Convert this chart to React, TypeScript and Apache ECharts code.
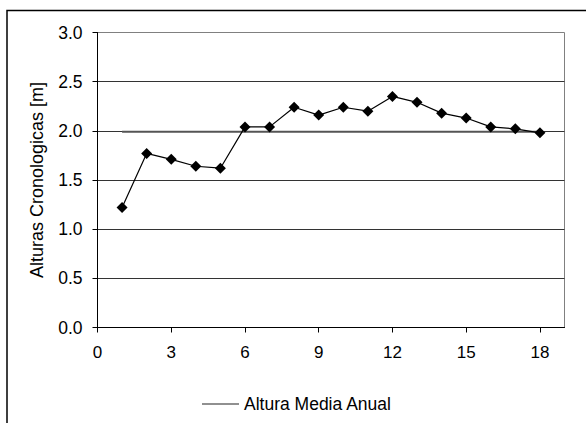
import React, { useEffect, useRef } from "react";
import * as echarts from "echarts";

// Chronological heights per year index
const years = [1, 2, 3, 4, 5, 6, 7, 8, 9, 10, 11, 12, 13, 14, 15, 16, 17, 18];
const heights = [
  1.22, 1.77, 1.71, 1.64, 1.62, 2.04, 2.04, 2.24, 2.16, 2.24, 2.2, 2.35, 2.29,
  2.18, 2.13, 2.04, 2.02, 1.98,
];
// Annual mean height, drawn as a flat line across the series span
const meanHeight = 1.99;
const meanSpan = [1, 18];

const xTicks = [0, 3, 6, 9, 12, 15, 18];
const yAxisTitle = "Alturas Cronologicas [m]";
const meanLabel = "Altura Media Anual";

const FONT = '"Liberation Sans", Arial, sans-serif';

export default function App() {
  const ref = useRef<HTMLDivElement>(null);

  useEffect(() => {
    if (!ref.current) return;
    const chart = echarts.init(ref.current, undefined, { renderer: "svg" });

    chart.setOption({
      animation: false,
      backgroundColor: "#fff",
      textStyle: { fontFamily: FONT, color: "#000" },
      grid: {
        left: 97.5,
        top: 32.5,
        width: 467,
        height: 295,
        show: true,
        borderColor: "#808080",
        borderWidth: 1,
      },
      xAxis: {
        type: "value",
        min: 0,
        max: 19,
        interval: 3,
        axisLine: { show: true, onZero: false, lineStyle: { color: "#000", width: 1 } },
        axisTick: {
          show: true,
          inside: false,
          length: 5,
          customValues: xTicks,
          lineStyle: { color: "#000" },
        },
        axisLabel: {
          customValues: xTicks,
          margin: 16,
          fontSize: 17,
          fontFamily: FONT,
          color: "#000",
        },
        splitLine: { show: false },
      },
      yAxis: {
        type: "value",
        min: 0,
        max: 3,
        interval: 0.5,
        name: yAxisTitle,
        nameLocation: "middle",
        nameRotate: 90,
        nameGap: 52,
        nameTextStyle: { fontSize: 18, fontFamily: FONT, color: "#000" },
        axisLine: { show: true, lineStyle: { color: "#000", width: 1 } },
        axisTick: { show: true, inside: false, length: 5, lineStyle: { color: "#000" } },
        axisLabel: {
          margin: 15,
          fontSize: 17.5,
          fontFamily: FONT,
          color: "#000",
          formatter: (v: number) => v.toFixed(1),
        },
        splitLine: {
          show: true,
          showMaxLine: false,
          lineStyle: { color: "#333", width: 1 },
        },
      },
      legend: {
        show: true,
        data: [{ name: meanLabel, icon: "rect" }],
        left: 197,
        top: 390,
        itemWidth: 37,
        itemHeight: 1.2,
        itemGap: 10,
        itemStyle: { color: "#222" },
        textStyle: { fontSize: 17.5, fontFamily: FONT, color: "#000", padding: [0, 0, 0, 0] },
      },
      graphic: [
        {
          type: "rect",
          shape: { x: 7, y: 10.5, width: 620, height: 440 },
          style: { fill: "none", stroke: "#000", lineWidth: 1.5 },
          silent: true,
          z: 100,
        },
      ],
      series: [
        {
          name: meanLabel,
          type: "line",
          data: meanSpan.map((x) => [x, meanHeight]),
          symbol: "none",
          lineStyle: { color: "#555", width: 2 },
          itemStyle: { color: "#555" },
          z: 2,
        },
        {
          name: "Alturas",
          type: "line",
          data: years.map((x, i) => [x, heights[i]]),
          symbol: "diamond",
          symbolSize: 11,
          lineStyle: { color: "#000", width: 1.2 },
          itemStyle: { color: "#000" },
          z: 3,
        },
      ],
    });

    return () => chart.dispose();
  }, []);

  return (
    <div
      ref={ref}
      style={{ position: "absolute", left: 0, top: 0, width: 586, height: 423 }}
    />
  );
}
